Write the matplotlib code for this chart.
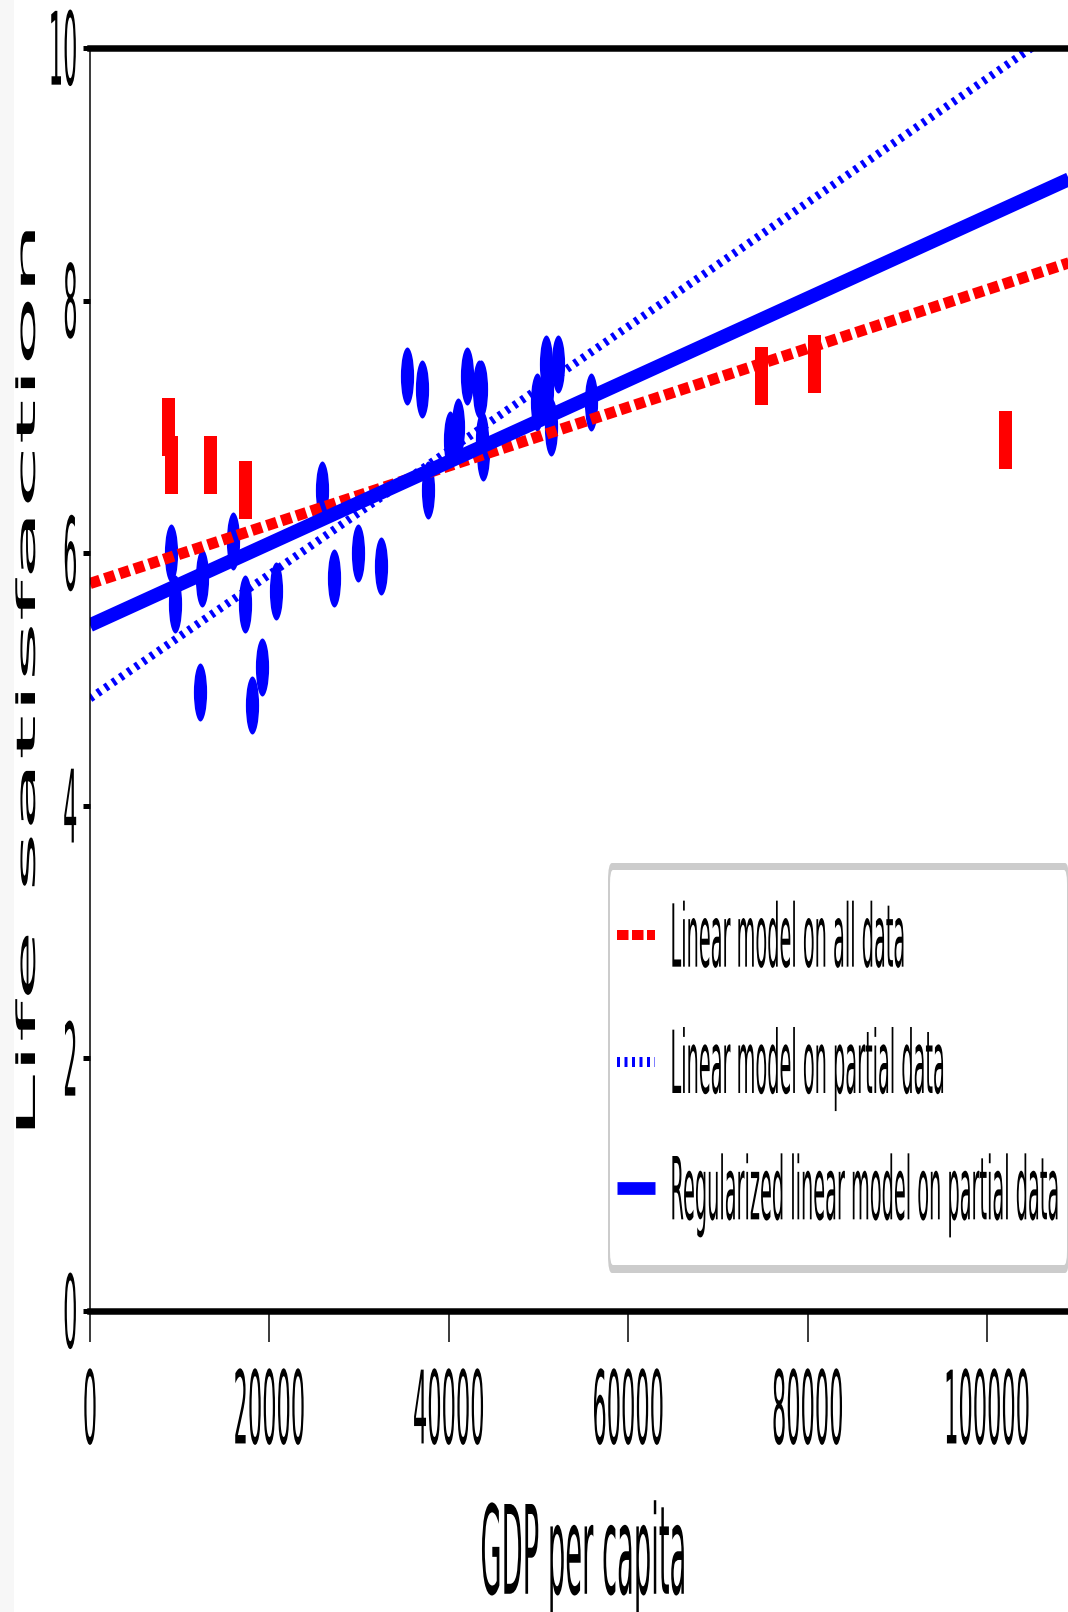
import numpy as np
import matplotlib
matplotlib.use("Agg")
import matplotlib.pyplot as plt
from matplotlib.patheffects import AbstractPathEffect
from matplotlib.transforms import Affine2D
from matplotlib.path import Path
from matplotlib.patches import FancyBboxPatch, Rectangle

# countries used for the fit (blue)
gdp_partial = [9055, 9437, 12240, 12495, 15992, 17288, 18064, 19122, 20732,
               25865, 27195, 29867, 32486, 35343, 37045, 37675, 40107, 40997,
               41974, 43332, 43603, 43724, 43771, 49866, 50855, 50962, 51351,
               52114, 55805]
life_partial = [6.0, 5.6, 4.9, 5.8, 6.1, 5.6, 4.8, 5.1, 5.7,
                6.5, 5.8, 6.0, 5.9, 7.4, 7.3, 6.5, 6.9, 7.0,
                7.4, 7.3, 7.3, 6.9, 6.8, 7.2, 7.5, 7.3, 7.0,
                7.5, 7.2]
# countries left out (red)
gdp_missing = [8670, 9009, 13341, 17257, 74822, 80675, 101994]
life_missing = [7.0, 6.7, 6.7, 6.5, 7.4, 7.5, 6.9]

# model lines, values at both ends of the x range
line_x = [0, 110000]
line_all = [5.76, 8.32]
line_partial = [4.85, 10.25]
line_ridge = [5.43, 8.99]

labels = ["Linear model on all data", "Linear model on partial data",
          "Regularized linear model on partial data"]
xticks = [0, 20000, 40000, 60000, 80000, 100000]
yticks = [0, 2, 4, 6, 8, 10]

W, H = 1068, 1612
K = 4.5          # the picture is stretched vertically by about this much
PX = 0.72        # points per pixel at dpi 100

plt.rcParams["lines.scale_dashes"] = False


class Tall(AbstractPathEffect):
    """Stretch glyphs vertically around the ink box (fy) or the baseline (base, in em)."""
    def __init__(self, k, fy=0.5, base=None):
        super().__init__()
        self.k, self.fy, self.base = k, fy, base

    def draw_path(self, renderer, gc, tpath, affine, rgbFace=None):
        m = affine.get_matrix()
        if self.base is None:
            bb = tpath.get_extents(affine)
            y0 = bb.y0 + self.fy * bb.height
        else:
            em = np.hypot(m[0, 0], m[1, 0]) * 100
            y0 = m[1, 2] + self.base * em
        st = Affine2D().translate(0, -y0).scale(1, self.k).translate(0, y0)
        renderer.draw_path(gc, tpath, affine + st, rgbFace)


def rbox(x0, y0, x1, y1, r, **kw):
    # rounded box in pixels (y from top), corners stretched like the rest
    return FancyBboxPatch((x0, (H - y1) / K), x1 - x0, (y1 - y0) / K,
                          boxstyle="round,pad=0,rounding_size=%g" % r,
                          transform=Affine2D().scale(1, K), clip_on=False, lw=0, **kw)


fig = plt.figure(figsize=(W / 100, H / 100), dpi=100)
fig.add_artist(Rectangle((0, 0), 14 / W, 1, transform=fig.transFigure,
                         fc="#f7f7f7", lw=0, zorder=-1))
ax = fig.add_axes([90 / W, 301 / H, 987 / W, 1263 / H])

ellipse = Path.unit_circle().transformed(Affine2D().scale(13 / 57, 1))
w = 0.5 * 13 / 58
bar = Path([(-w, -0.5), (w, -0.5), (w, 0.5), (-w, 0.5), (-w, -0.5)], closed=True)

ax.plot(gdp_partial, life_partial, ls="none", marker=ellipse, ms=58 * PX, mew=0, color="b")
ax.plot(gdp_missing, life_missing, ls="none", marker=bar, ms=58 * PX, mew=0, color="r")
ax.plot(line_x, line_all, "r--", lw=11.2 * PX, dashes=(10.5 * PX, 5 * PX), label=labels[0])
ax.plot(line_x, line_partial, "b:", lw=8.2 * PX, dashes=(3.6 * PX, 5.6 * PX), label=labels[1])
ax.plot(line_x, line_ridge, "b-", lw=13.8 * PX, solid_capstyle="butt", label=labels[2])

ax.set_xlim(0, 110000)
ax.set_ylim(0, 10)
ax.set_xticks(xticks)
ax.set_yticks(yticks)
ax.spines["right"].set_visible(False)
ax.spines["left"].set_linewidth(1.5 * PX)
ax.spines["top"].set_linewidth(6.5 * PX)
ax.spines["bottom"].set_linewidth(6.5 * PX)
ax.tick_params(axis="x", length=31 * PX, width=1.5 * PX, pad=27 * PX, labelsize=16.2)
ax.tick_params(axis="y", length=7 * PX, width=5 * PX, pad=5.5 * PX, labelsize=16.2)
for t in ax.get_xticklabels():
    t.set_path_effects([Tall(K, fy=1)])
for t in ax.get_yticklabels():
    t.set_path_effects([Tall(K, fy=0.5)])

ax.set_xlabel("GDP per capita", fontsize=19.7, path_effects=[Tall(K, fy=1)])
ax.xaxis.set_label_coords(0.5, (111 - 301) / 1263)
ax.set_ylabel("Life satisfaction", fontsize=18.7, path_effects=[Tall(4.49, fy=0.5)])
ax.yaxis.set_label_coords((41 - 90) / 987, 0.5)

leg = ax.legend(loc="upper left", bbox_to_anchor=(617 / W, (H - 927) / H),
                bbox_transform=fig.transFigure, frameon=False, borderpad=0,
                borderaxespad=0, fontsize=13.9, handlelength=1.97,
                handletextpad=0.8, labelspacing=5.56)
for t in leg.get_texts():
    t.set_path_effects([Tall(K, base=0.365)])
hs = leg.legend_handles
hs[0].set_linewidth(10 * PX)
hs[0].set_dashes((11.5 * PX, 3.5 * PX))
hs[1].set_linewidth(10 * PX)
hs[1].set_dashes((3 * PX, 4.5 * PX))
hs[2].set_linewidth(12.7 * PX)
ax.add_artist(rbox(608, 863, 1069, 1273, 4, fc="#cccccc", zorder=4))
ax.add_artist(rbox(610, 870, 1067, 1265, 3, fc="white", zorder=4.1))

fig.savefig("out.png", dpi=100)
